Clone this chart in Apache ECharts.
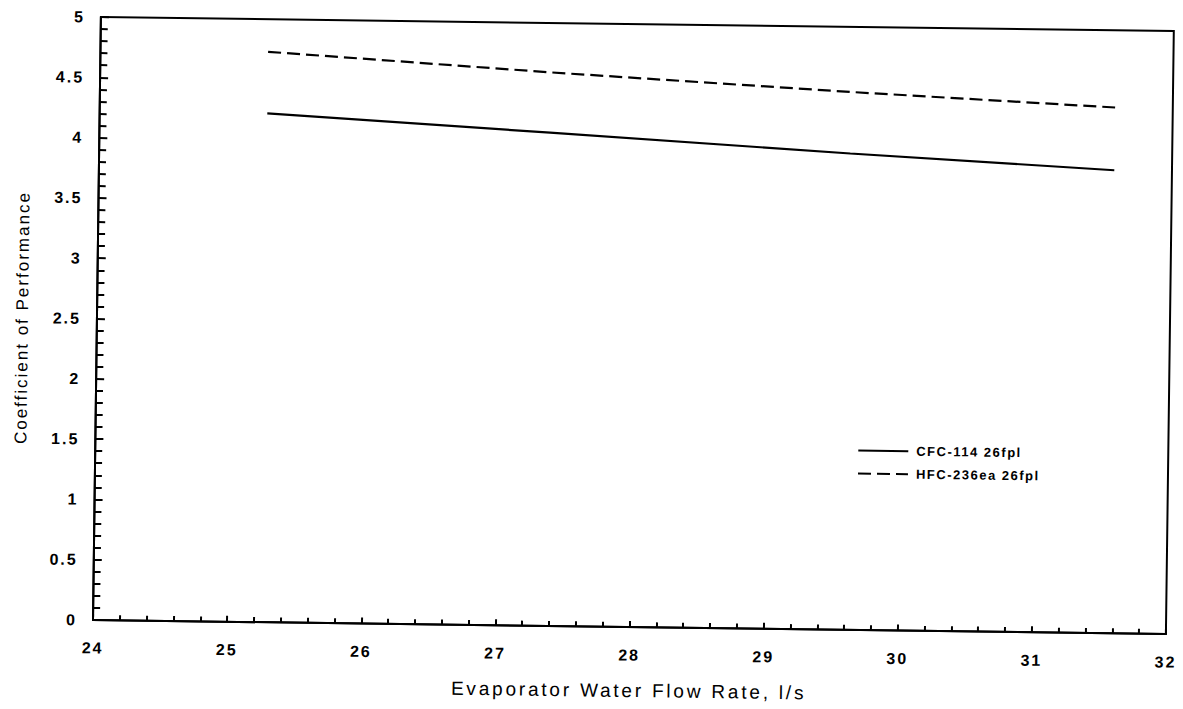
<!DOCTYPE html>
<html>
<head>
<meta charset="utf-8">
<script src="https://cdn.jsdelivr.net/npm/echarts@6/dist/echarts.min.js"></script>
<style>
  html, body { margin: 0; padding: 0; background: #fff; }
  #chart {
    width: 1183px; height: 709px;
    /* the printed page sits slightly askew */
    transform: rotate(0.75deg);
    transform-origin: 93px 620px;
  }
</style>
</head>
<body>
<div id="chart"></div>
<script>
// Evaporator water flow rate (l/s)
const flowRate = [25.25, 27.36, 29.6, 31.57];
// Coefficient of performance per refrigerant
const cfc114 = [4.22, 4.09, 3.95, 3.84];
const hfc236ea = [4.73, 4.59, 4.46, 4.36];
const seriesNames = ['CFC-114 26fpl', 'HFC-236ea 26fpl'];
const xTitle = 'Evaporator Water Flow Rate, l/s';
const yTitle = 'Coefficient of Performance';

const pairs = (xs, ys) => xs.map((x, i) => [x, ys[i]]);

const chart = echarts.init(document.getElementById('chart'), null, { renderer: 'svg' });

const FONT = 'Liberation Sans, Arial, sans-serif';
const tickLabel = { color: '#000', fontFamily: FONT, fontWeight: 'bold', fontSize: 16 };

chart.setOption({
  backgroundColor: '#fff',
  animation: false,
  grid: {
    left: 93, right: 17, top: 17, bottom: 89,
    show: true, borderColor: '#000', borderWidth: 2, backgroundColor: 'transparent'
  },
  legend: {
    data: seriesNames,
    orient: 'vertical',
    left: 850, top: 429,
    itemWidth: 50, itemHeight: 14, itemGap: 10,
    // line samples only, no marker in the middle
    itemStyle: { opacity: 0 },
    textStyle: { color: '#000', fontFamily: FONT, fontWeight: 'bold', fontSize: 13, padding: [0, 0, 0, 3] }
  },
  xAxis: {
    type: 'value', min: 24, max: 32, interval: 1,
    name: xTitle,
    nameLocation: 'middle', nameGap: 54,
    nameTextStyle: { color: '#000', fontFamily: FONT, fontSize: 19 },
    axisLine: { show: true, onZero: false, lineStyle: { color: '#000', width: 2 } },
    axisTick: { show: true, inside: true, length: 6, lineStyle: { color: '#000', width: 2 } },
    minorTick: { show: true, splitNumber: 5, length: 5, lineStyle: { color: '#000', width: 2 } },
    axisLabel: Object.assign({ margin: 20 }, tickLabel),
    splitLine: { show: false }
  },
  yAxis: {
    type: 'value', min: 0, max: 5, interval: 0.5,
    name: yTitle,
    nameLocation: 'middle', nameGap: 66,
    nameTextStyle: { color: '#000', fontFamily: FONT, fontSize: 17 },
    axisLine: { show: true, lineStyle: { color: '#000', width: 2 } },
    axisTick: { show: true, inside: true, length: 8, lineStyle: { color: '#000', width: 2 } },
    minorTick: { show: true, splitNumber: 5, length: 7, lineStyle: { color: '#000', width: 2 } },
    axisLabel: Object.assign({ margin: 16 }, tickLabel),
    splitLine: { show: false }
  },
  series: [
    {
      name: seriesNames[0], type: 'line', data: pairs(flowRate, cfc114),
      symbol: 'none', color: '#000',
      lineStyle: { color: '#000', width: 2.2, type: 'solid' }
    },
    {
      name: seriesNames[1], type: 'line', data: pairs(flowRate, hfc236ea),
      symbol: 'none', color: '#000',
      lineStyle: { color: '#000', width: 2.2, type: [13, 6] }
    }
  ]
});

// Typewriter-like tracking for the printed labels
function applyTracking() {
  document.querySelectorAll('#chart svg text').forEach(t => {
    const s = t.textContent;
    let sp = '2px';
    if (s === xTitle) sp = '2.8px';
    else if (s === yTitle) sp = '2px';
    else if (seriesNames.includes(s)) sp = '1.5px';
    t.style.letterSpacing = sp;
  });
}
applyTracking();
chart.on('finished', applyTracking);
</script>
</body>
</html>
